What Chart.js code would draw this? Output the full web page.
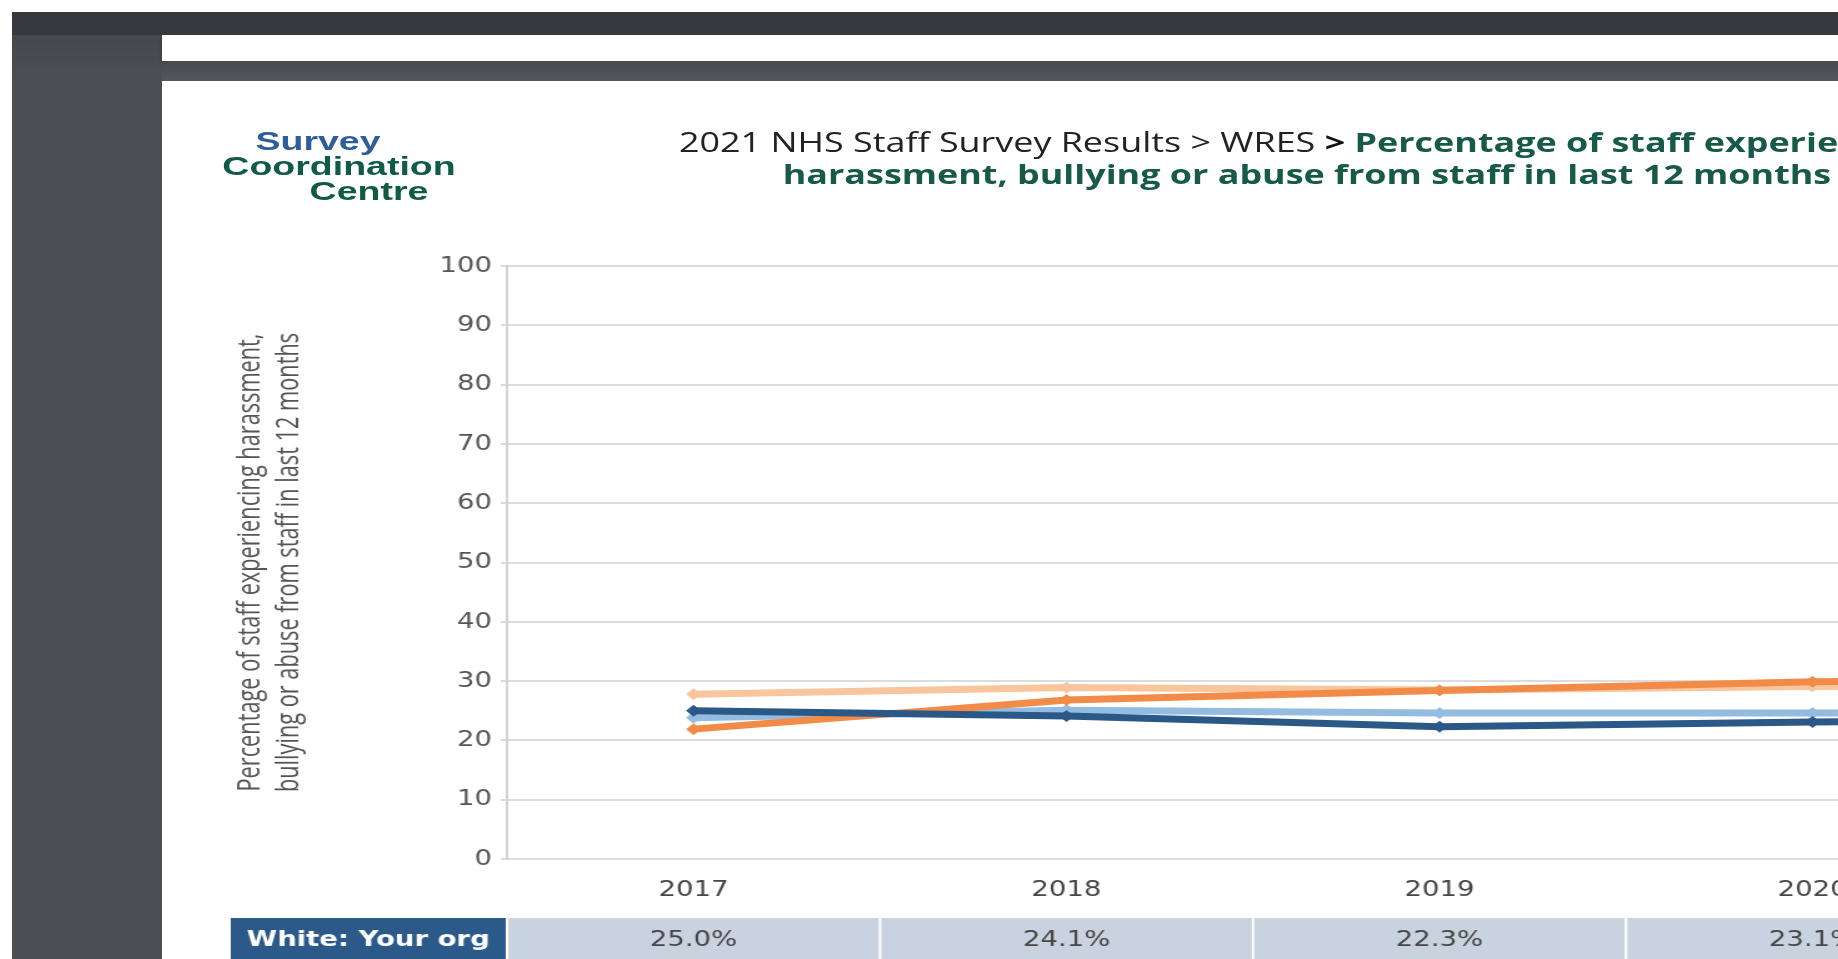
<!DOCTYPE html>
<html>
<head>
<meta charset="utf-8">
<title>WRES – harassment, bullying or abuse from staff</title>
<script src="https://cdn.jsdelivr.net/npm/chart.js@4/dist/chart.umd.min.js"></script>
<style>
  html, body { margin: 0; padding: 0; width: 1838px; height: 959px; overflow: hidden; background: #fff; }
  .frame { position: absolute; }
  #topbar  { left: 12px; top: 12px; width: 1826px; height: 23px; background: #35383c; }
  #sidebar { left: 12px; top: 35px; width: 150px; height: 924px; background: linear-gradient(#44484c, #4b4f53 40px); }
  #strip   { left: 162px; top: 35px; width: 1676px; height: 26px; background: #fff; box-shadow: 0 2px 3px rgba(0,0,0,0.35); }
  #gap     { left: 162px; top: 61px; width: 1676px; height: 20px; background: linear-gradient(#45494d, #55595d); }
  #page    { left: 162px; top: 81px; width: 1676px; height: 878px; background: #fff; overflow: hidden; }
  .logo { position: absolute; font-family: "Liberation Sans", Arial, sans-serif; font-weight: bold; font-size: 25px;
          line-height: 1; white-space: nowrap; transform-origin: 50% 50%; }
  .logo.blue  { color: #2f5e98; }
  .logo.green { color: #0f5b45; }
  .title { position: absolute; font-family: "Open Sans", sans-serif; font-size: 27px; line-height: 1;
           white-space: nowrap; color: #222; transform-origin: 50% 50%; }
  .title .hl { color: #175a49; font-weight: bold; }
  .title b { color: #111; }
  #chartBox { position: absolute; left: 0; top: 0; width: 1800px; height: 878px;
              transform: scaleX(1.25); transform-origin: 0 0; }
</style>
</head>
<body>
<div class="frame" id="topbar"></div>
<div class="frame" id="sidebar"></div>
<div class="frame" id="strip"></div>
<div class="frame" id="gap"></div>
<div class="frame" id="page">
  <div id="chartBox"><canvas id="trend" width="1800" height="878"></canvas></div>
  <span class="logo blue"  style="left:156px; top:60px; transform: translate(-50%,-50%) scaleX(1.5);">Survey</span>
  <span class="logo green" style="left:177px; top:85px; transform: translate(-50%,-50%) scaleX(1.5);">Coordination</span>
  <span class="logo green" style="left:207px; top:110px; transform: translate(-50%,-50%) scaleX(1.5);">Centre</span>
  <div class="title" style="left:1145px; top:60px; transform: translate(-50%,-50%) scaleX(1.33);">2021 NHS Staff Survey Results &gt; WRES <b>&gt;</b> <span class="hl">Percentage of staff experiencing</span></div>
  <div class="title" style="left:1145px; top:92px; transform: translate(-50%,-50%) scaleX(1.33);"><span class="hl">harassment, bullying or abuse from staff in last 12 months</span></div>
</div>

<script>
// Survey years on the x axis
const years = ['2017', '2018', '2019', '2020', '2021'];

// Percentage of staff experiencing harassment, bullying or abuse from staff
const whiteYourOrg = [25.0, 24.1, 22.3, 23.1, 23.6];
const whiteAverage = [23.8, 25.1, 24.6, 24.6, 24.7];
const bmeYourOrg   = [21.9, 26.8, 28.4, 29.9, 30.5];
const bmeAverage   = [27.8, 28.9, 28.5, 29.1, 29.4];

// Y axis tick values
const yTickValues = [0, 10, 20, 30, 40, 50, 60, 70, 80, 90, 100];

// Rotated two-line axis caption
const yTitleLines = [
  'Percentage of staff experiencing harassment,',
  'bullying or abuse from staff in last 12 months'
];

// Row label for the table under the axis
const tableRowLabel = 'White: Your org';

const TICK_FONT = { family: '"DejaVu Sans", Verdana, sans-serif', size: 22 };

// Condensed, rotated two-line caption left of the y axis
const yCaptionPlugin = {
  id: 'yCaption',
  afterDraw(chart) {
    const { ctx, chartArea } = chart;
    const cy = (chartArea.top + chartArea.bottom) / 2;
    ctx.save();
    ctx.font = '25px "Open Sans", sans-serif';
    ctx.fillStyle = '#555555';
    ctx.textAlign = 'center';
    ctx.textBaseline = 'middle';
    const squeeze = 458 / ctx.measureText(yTitleLines[0]).width;
    yTitleLines.forEach((line, i) => {
      ctx.save();
      ctx.translate(71 + i * 31, cy);
      ctx.rotate(-Math.PI / 2);
      ctx.scale(squeeze, 1);
      ctx.fillText(line, 0, 0);
      ctx.restore();
    });
    ctx.restore();
  }
};

// Value table row aligned with the year columns
const tableRowPlugin = {
  id: 'tableRow',
  afterDraw(chart) {
    const { ctx, chartArea, scales } = chart;
    const x = scales.x;
    const top = chartArea.bottom + 59;
    const h = 44;
    const step = x.getPixelForValue(1) - x.getPixelForValue(0);
    ctx.save();
    ctx.fillStyle = '#2b5a8a';
    ctx.fillRect(chartArea.left - 221, top, 220, h);
    ctx.fillStyle = '#ffffff';
    ctx.font = 'bold 22px "DejaVu Sans", Verdana, sans-serif';
    ctx.textAlign = 'center';
    ctx.textBaseline = 'middle';
    ctx.fillText(tableRowLabel, chartArea.left - 111, top + h / 2);
    ctx.font = '22px "DejaVu Sans", Verdana, sans-serif';
    years.forEach((yr, i) => {
      const cx = x.getPixelForValue(i);
      ctx.fillStyle = '#c9d3df';
      ctx.fillRect(cx - step / 2 + 1, top, step - 2, h);
      ctx.fillStyle = '#454545';
      ctx.fillText(whiteYourOrg[i].toFixed(1) + '%', cx, top + h / 2);
    });
    ctx.restore();
  }
};

function series(label, data, color, order) {
  return {
    label, data, order,
    borderColor: color,
    backgroundColor: color,
    borderWidth: 7,
    tension: 0,
    pointStyle: 'rectRot',
    pointRadius: 5.5,
    pointBorderWidth: 1,
    pointBackgroundColor: color,
    pointBorderColor: color
  };
}

new Chart(document.getElementById('trend'), {
  type: 'line',
  data: {
    labels: years,
    datasets: [
      series('White: Your org', whiteYourOrg, '#2a5887', 1),
      series('White: Average',  whiteAverage, '#93bce0', 3),
      series('BME: Your org',   bmeYourOrg,   '#f28b48', 2),
      series('BME: Average',    bmeAverage,   '#f9c59d', 4)
    ]
  },
  options: {
    responsive: false,
    animation: false,
    layout: { padding: { left: 0, top: 185, right: 32, bottom: 0 } },
    plugins: { legend: { display: false }, tooltip: { enabled: false }, title: { display: false } },
    scales: {
      x: {
        offset: true,
        grid: { display: false, drawTicks: false },
        border: { display: false },
        ticks: { color: '#454545', font: TICK_FONT, padding: 18 },
        afterFit(scale) { scale.height = 100; }
      },
      y: {
        min: 0, max: 100,
        afterBuildTicks(scale) { scale.ticks = yTickValues.map(v => ({ value: v })); },
        grid: { color: '#dcdcdc', lineWidth: 2, tickLength: 5 },
        border: { color: '#d2d2d2', width: 2 },
        ticks: { color: '#555555', font: TICK_FONT, padding: 7 },
        afterFit(scale) { scale.width = 276; }
      }
    }
  },
  plugins: [yCaptionPlugin, tableRowPlugin]
});
</script>
</body>
</html>
